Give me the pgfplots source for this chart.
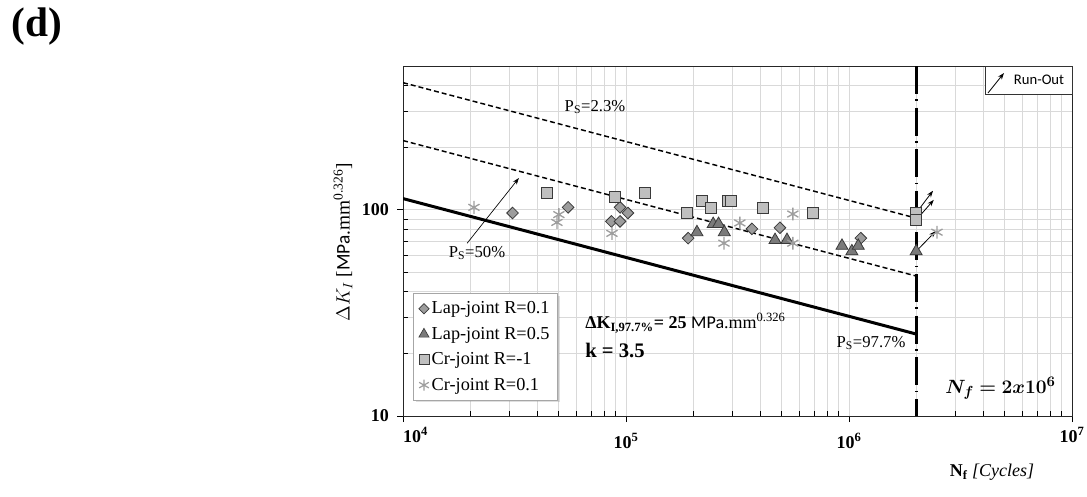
\documentclass[border=0pt]{standalone}
\usepackage{fontspec}
\setmainfont{Liberation Serif}
\setsansfont{Carlito}
\usepackage{bm}
\usepackage{pgfplots}
\pgfplotsset{compat=1.18}
\usetikzlibrary{arrows.meta, shadows}

\definecolor{sqfill}{HTML}{BFBFBF}
\definecolor{dmfill}{HTML}{9C9C9C}
\definecolor{trfill}{HTML}{7A7A7A}
\definecolor{askcol}{HTML}{9E9E9E}
\definecolor{mkedge}{HTML}{3A3A3A}
\definecolor{gridc}{HTML}{D9D9D9}

\begin{document}
\begin{tikzpicture}
\begin{axis}[
    at={(0,0)}, anchor=south west,
    scale only axis, width=501.75pt, height=262.5pt,
    xmode=log, ymode=log,
    xmin=1e4, xmax=1e7, ymin=10, ymax=500,
    xtick={1e4,1e5,1e6,1e7},
    xticklabels={\raisebox{4.5pt}{\makebox[0pt][l]{\textbf{10\textsuperscript{4}}}},
                 \textbf{10\textsuperscript{5}},
                 \textbf{10\textsuperscript{6}},
                 \raisebox{4.5pt}{\textbf{10\textsuperscript{7}}}},
    minor xtick={2e4,3e4,4e4,5e4,6e4,7e4,8e4,9e4,2e5,3e5,4e5,5e5,6e5,7e5,8e5,9e5,
                 2e6,3e6,4e6,5e6,6e6,7e6,8e6,9e6},
    ytick={10,100}, yticklabels={\textbf{10},\textbf{100}},
    minor ytick={20,30,40,50,60,70,80,90,200,300,400},
    grid=both,
    major grid style={gridc, line width=0.75pt},
    minor grid style={gridc, line width=0.75pt},
    axis line style={black!85, line width=0.75pt},
    tick style={black, line width=0.75pt},
    xtick pos=bottom, ytick pos=left,
    tick align=inside, major tick length=4.5pt, minor tick length=3.5pt,
    major x tick style={yshift=-4.5pt},
    major y tick style={xshift=-4.5pt},
    ticklabel style={font=\fontsize{13.5}{15}\selectfont},
    xticklabel style={anchor=base, yshift=-24.5pt},
    yticklabel style={xshift=-7pt},
    legend image code/.code={\draw[#1] plot coordinates {(0pt,0pt)};},
    legend style={at={(0.015,0.351)}, anchor=north west,
        draw=black!35, line width=0.75pt, fill=white,
        drop shadow={opacity=0.25, shadow xshift=1.5pt, shadow yshift=-1.5pt},
        font=\fontsize{13.7}{16}\selectfont,
        inner xsep=4pt, inner ysep=4pt, row sep=4.5pt},
    legend cell align=left,
]
% legend images
\addlegendimage{mark=square*, mark size=2.7pt, mark options={rotate=45, fill=dmfill, draw=mkedge, line width=0.5pt}}
\addlegendimage{mark=triangle*, mark size=4.4pt, mark options={fill=trfill, draw=mkedge, line width=0.5pt}}
\addlegendimage{mark=square*, mark size=3.7pt, mark options={fill=sqfill, draw=mkedge, line width=0.5pt}}
\addlegendimage{mark=asterisk, mark size=4.2pt, mark options={draw=askcol, line width=0.9pt}}
\legend{Lap-joint R=0.1, Lap-joint R=0.5, Cr-joint R=-1, Cr-joint R=0.1}

% S-N lines (Ps = 97.7 %, 50 %, 2.3 %), k = 3.5
\addplot[black, line width=2.25pt, forget plot] coordinates {(1e4,113.6) (2e6,25)};
\addplot[black, line width=1.1pt, dash pattern=on 3.75pt off 2.25pt, forget plot]
    coordinates {(1e4,217.3) (2e6,47.8)};
\addplot[black, line width=1.1pt, dash pattern=on 3.75pt off 2.25pt, forget plot]
    coordinates {(1e4,415) (2e6,91.3)};
% N_f = 2x10^6
\addplot[black, line width=2.25pt, dash pattern=on 21pt off 4pt on 1.2pt off 5pt, forget plot]
    coordinates {(2e6,500) (2e6,10)};

% Lap-joint R=0.1
\addplot[only marks, mark=square*, mark size=3.1pt,
    mark options={rotate=45, fill=dmfill, draw=mkedge, line width=0.6pt}, forget plot]
    coordinates {(3.1e4,96.7) (5.5e4,103) (8.6e4,88) (9.4e4,88) (9.4e4,103)
                 (1.02e5,96.7) (1.9e5,73) (3.67e5,81) (4.9e5,82) (1.13e6,73)};
% Lap-joint R=0.5
\addplot[only marks, mark=triangle*, mark size=5.2pt,
    mark options={fill=trfill, draw=mkedge, line width=0.6pt}, forget plot]
    coordinates {(2.08e5,78) (2.46e5,85.5) (2.6e5,85.5) (2.76e5,78) (4.66e5,71.5)
                 (5.27e5,71.5) (9.3e5,67) (1.03e6,63) (1.1e6,67) (2e6,63)};
% Cr-joint R=-1
\addplot[only marks, mark=square*, mark size=4.1pt,
    mark options={fill=sqfill, draw=mkedge, line width=0.6pt}, forget plot]
    coordinates {(4.42e4,121) (8.93e4,116) (1.22e5,121) (1.88e5,96.7) (2.19e5,110.6)
                 (2.4e5,102) (2.86e5,110.6) (2.96e5,110.6) (4.11e5,102) (6.9e5,96.7)
                 (2e6,96.7) (2e6,89.4)};
% Cr-joint R=0.1
\addplot[only marks, mark=asterisk, mark size=4.8pt,
    mark options={draw=askcol, line width=1pt}, forget plot]
    coordinates {(2.08e4,103) (5.0e4,95) (4.9e4,87) (8.65e4,77) (2.75e5,69)
                 (3.24e5,86.5) (5.6e5,95.6) (5.6e5,69) (2.48e6,78)};

% run-out arrows and Ps=50% pointer
\draw[-{Stealth[length=5pt,width=3.5pt]}, line width=0.6pt] (axis cs:2e6,96.7) -- (axis cs:2.38e6,124);
\draw[-{Stealth[length=5pt,width=3.5pt]}, line width=0.6pt] (axis cs:2e6,89.4) -- (axis cs:2.4e6,112);
\draw[-{Stealth[length=5pt,width=3.5pt]}, line width=0.6pt] (axis cs:2e6,63) -- (axis cs:2.45e6,79);
\draw[-{Stealth[length=5pt,width=3.5pt]}, line width=0.5pt] (axis cs:1.94e4,69) -- (axis cs:3.31e4,143);
\end{axis}

\begin{scope}[x=0.75pt, y=-0.75pt, shift={(-302.25pt,312pt)}]
\node[font=\bfseries\fontsize{31}{33}\selectfont] at (37,27) {(d)};
\node[font=\fontsize{12.5}{14}\selectfont] at (595,107) {P\textsubscript{S}=2.3\%};
\node[font=\fontsize{12.5}{14}\selectfont] at (477,253) {P\textsubscript{S}=50\%};
\node[font=\fontsize{12.5}{14}\selectfont] at (871,343) {P\textsubscript{S}=97.7\%};
\node[font=\fontsize{13.5}{15}\selectfont, anchor=west, inner sep=0pt] at (585,323)
    {\textbf{ΔK\textsubscript{I,97.7\%}= 25} {\sffamily MPa}.mm\textsuperscript{0.326}};
\node[font=\bfseries\fontsize{15.5}{17}\selectfont, anchor=west, inner sep=0pt] at (585,350) {k = 3.5};
\node[font=\fontsize{15}{17}\selectfont, anchor=west, inner sep=0pt] at (945,388) {$\bm{N_f = 2x10^6}$};
\node[rotate=90, font=\fontsize{14.5}{16}\selectfont] at (343,242)
    {$\Delta K_I$ [{\sffamily MPa}.mm\textsuperscript{0.326}]};
\node[font=\fontsize{13.5}{15}\selectfont] at (992,472) {\textbf{N\textsubscript{f}} \textit{[Cycles]}};
% run-out key
\draw[black!80, fill=white, line width=0.6pt] (985,66) rectangle (1072,94);
\draw[-{Stealth[length=5pt,width=3.5pt]}, line width=0.6pt] (988,93) -- (1004,73);
\node[font=\sffamily\fontsize{11}{13}\selectfont] at (1039,80) {Run-Out};
\pgfresetboundingbox
\path[use as bounding box] (0,0) rectangle (1087,496);
\end{scope}
\end{tikzpicture}
\end{document}
